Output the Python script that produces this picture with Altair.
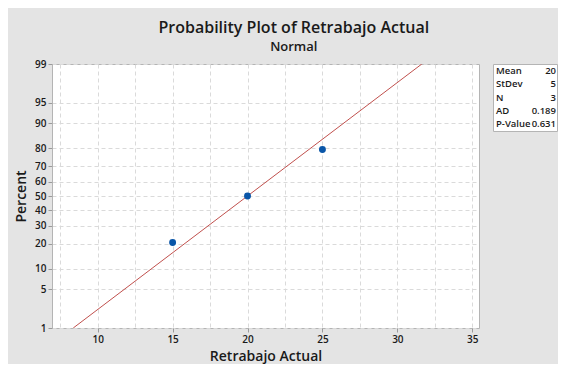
import altair as alt
import pandas as pd
from statistics import NormalDist

# ---- data ----
x_values = [15, 20, 25]
percent_values = [20.6, 50.0, 79.4]          # median-rank plotting positions
y_tick_percents = [1, 5, 10, 20, 30, 40, 50, 60, 70, 80, 90, 95, 99]
x_grid_values = [7.5, 10, 12.5, 15, 17.5, 20, 22.5, 25, 27.5, 30, 32.5, 35]
x_domain = [6.95, 35.45]
fit_mean = 20
fit_stdev = 5
fit_percent_range = [1, 99]
stat_labels = ["Mean", "StDev", "N", "AD", "P-Value"]
stat_values = ["20", "5", "3", "0.189", "0.631"]

FONT = "Open Sans"
nd = NormalDist()

def z(p):
    return nd.inv_cdf(p / 100.0)

points = pd.DataFrame({"x": x_values, "z": [z(p) for p in percent_values]})
fit = pd.DataFrame({
    "x": [fit_mean + fit_stdev * z(p) for p in fit_percent_range],
    "z": [z(p) for p in fit_percent_range],
})
y_ticks = [z(p) for p in y_tick_percents]
y_domain = [z(fit_percent_range[0]), z(fit_percent_range[1])]

x_enc = alt.X(
    "x:Q",
    scale=alt.Scale(domain=x_domain, nice=False, zero=False),
    axis=alt.Axis(
        title="Retrabajo Actual",
        values=x_grid_values,
        tickCount=100,
        labelExpr="datum.value % 5 === 0 ? format(datum.value, 'd') : ''",
        tickOpacity={"condition": {"test": "datum.value % 5 !== 0", "value": 0}, "value": 1},
        labelOverlap=False,
        titlePadding=5,
    ),
)
y_enc = alt.Y(
    "z:Q",
    scale=alt.Scale(domain=y_domain, nice=False, zero=False),
    axis=alt.Axis(
        title="Percent",
        values=y_ticks,
        tickCount=100,
        labelExpr="format(cumulativeNormal(datum.value) * 100, '.0f')",
        labelOverlap=False,
        titlePadding=6,
    ),
)

line = alt.Chart(fit).mark_line(color="#c0504d", strokeWidth=1, clip=True).encode(x=x_enc, y=y_enc)
dots = alt.Chart(points).mark_circle(color="#0a56a8", size=48, opacity=1).encode(x="x:Q", y="z:Q")
main = alt.layer(line, dots).properties(width=427, height=264)

stats = pd.DataFrame({"stat": stat_labels, "value": stat_values})
ty = alt.Y("stat:N", sort=stat_labels, axis=None, scale=alt.Scale(paddingOuter=0.14, paddingInner=0))
t1 = alt.Chart(stats).mark_text(align="left", baseline="middle", fontSize=9.5, font=FONT,
                                fontWeight=600, color="#1a1a1a").encode(
    y=ty, x=alt.value(3), text="stat:N")
t2 = alt.Chart(stats).mark_text(align="right", baseline="middle", fontSize=9.5, font=FONT,
                                fontWeight=600, color="#1a1a1a").encode(
    y=ty, x=alt.value(63), text="value:N")
table = alt.layer(t1, t2).properties(width=64, height=67)

chart = alt.hconcat(main, table, spacing=12).properties(
    title=alt.TitleParams(
        text="Probability Plot of Retrabajo Actual",
        subtitle="Normal",
        anchor="middle",
        dx=8,
        font=FONT,
        fontSize=16,
        fontWeight=600,
        color="#1a1a1a",
        subtitleFont=FONT,
        subtitleFontSize=13,
        subtitleFontWeight=600,
        subtitleColor="#1a1a1a",
        subtitlePadding=5,
        offset=5,
    ),
    padding={"left": 6, "top": 11, "right": 0, "bottom": 0},
    background="#e4e4e4",
).configure_view(
    fill="white", stroke="#b4b4b4", strokeWidth=1
).configure_axis(
    domain=False,
    grid=True,
    gridColor="#dadada",
    gridDash=[4, 3],
    gridWidth=1,
    tickColor="#9a9a9a",
    tickSize=4,
    labelFont=FONT,
    labelFontSize=10,
    labelFontWeight=600,
    labelColor="#1a1a1a",
    labelPadding=2,
    titleFont=FONT,
    titleFontSize=14,
    titleFontWeight=600,
    titleColor="#1a1a1a",
)

chart.save("out.html", embed_options={"renderer": "svg", "actions": False})
